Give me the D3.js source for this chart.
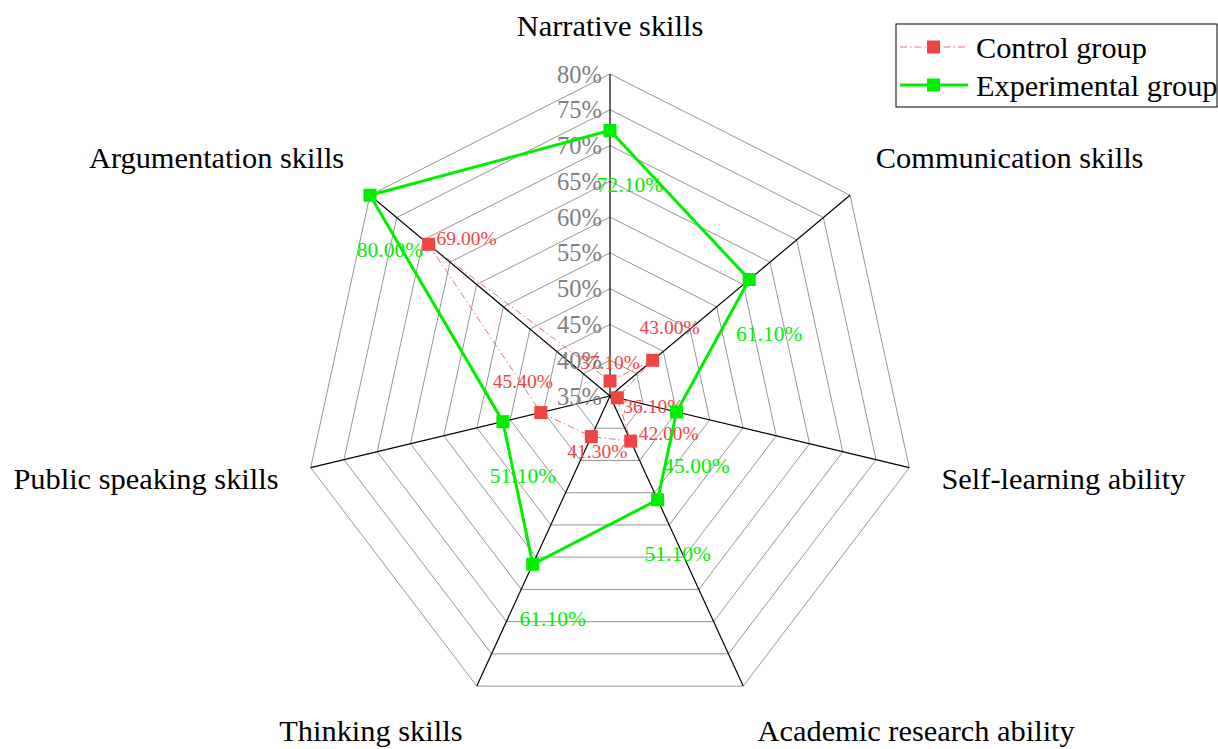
<!DOCTYPE html>
<html>
<head>
<meta charset="utf-8">
<script src="https://cdn.jsdelivr.net/npm/d3@7"></script>
<style>
  body { margin: 0; background: #fff; }
  svg { display: block; font-family: "Liberation Serif", "Times New Roman", serif; }
</style>
</head>
<body>
<svg id="chart" width="1218" height="749"></svg>
<script>
const categories = ["Narrative skills", "Communication skills", "Self-learning ability",
  "Academic research ability", "Thinking skills", "Public speaking skills", "Argumentation skills"];
const controlValues = [37.1, 43.0, 36.1, 42.0, 41.3, 45.4, 69.0];
const experimentalValues = [72.1, 61.1, 45.0, 51.1, 61.1, 51.1, 80.0];
const ticks = [35, 40, 45, 50, 55, 60, 65, 70, 75, 80];
const seriesNames = ["Control group", "Experimental group"];

// where each value label sits relative to its marker
const controlLabelShift = [[0, -19], [17, -33], [36, 8], [38, -8], [6, 15], [-18, -31], [38, -6]];
const expLabelShift = [20, 54];
// small vertical tweak for the category names
const catNudge = [0, -7, 0, 0, 0, 0, -7];

const svg = d3.select("#chart");
const cx = 610, cy = 396, rx = 307, ry = 322;
const red = "#ef4444", green = "#00ee00";

const r = d3.scaleLinear().domain([35, 80]).range([0, 1]);
const angle = d3.scaleLinear().domain([0, categories.length]).range([0, 2 * Math.PI]);

const px = (i, v) => cx + r(v) * rx * Math.sin(angle(i));
const py = (i, v) => cy - r(v) * ry * Math.cos(angle(i));

// grid rings
const grid = svg.append("g");
ticks.slice(1).forEach(t => {
  grid.append("polygon")
    .attr("points", categories.map((c, i) => `${px(i, t)},${py(i, t)}`).join(" "))
    .attr("fill", "none")
    .attr("stroke", "#8a8a8a")
    .attr("stroke-width", 0.9);
});

// spokes
grid.selectAll("line.spoke")
  .data(categories)
  .join("line")
  .attr("x1", cx).attr("y1", cy)
  .attr("x2", (d, i) => px(i, 80))
  .attr("y2", (d, i) => py(i, 80))
  .attr("stroke", "#000")
  .attr("stroke-width", 1.2);

// tick labels along the top spoke
svg.append("g").selectAll("text")
  .data(ticks)
  .join("text")
  .attr("x", cx - 8)
  .attr("y", d => py(0, d))
  .attr("dy", "0.35em")
  .attr("text-anchor", "end")
  .attr("fill", "#808080")
  .attr("font-size", 24.5)
  .text(d => d + "%");

// category labels
svg.append("g").selectAll("text")
  .data(categories)
  .join("text")
  .attr("x", (d, i) => {
    const s = Math.sin(angle(i));
    return Math.abs(s) < 0.01 ? cx : cx + s * (rx + 33);
  })
  .attr("y", (d, i) => cy - Math.cos(angle(i)) * (ry + 49) + catNudge[i])
  .attr("dy", "0.35em")
  .attr("text-anchor", (d, i) => {
    const s = Math.sin(angle(i));
    return Math.abs(s) < 0.01 ? "middle" : (s > 0 ? "start" : "end");
  })
  .attr("font-size", 30.4)
  .attr("fill", "#000")
  .text(d => d);

function drawSeries(values, color, lineColor, width, dash) {
  const g = svg.append("g");
  const line = d3.line().x(d => px(d.i, d.v)).y(d => py(d.i, d.v)).curve(d3.curveLinearClosed);
  const pts = values.map((v, i) => ({ i, v }));
  g.append("path")
    .attr("d", line(pts))
    .attr("fill", "none")
    .attr("stroke", lineColor)
    .attr("stroke-width", width)
    .attr("stroke-dasharray", dash);
  g.selectAll("rect")
    .data(pts)
    .join("rect")
    .attr("x", d => px(d.i, d.v) - 6.5)
    .attr("y", d => py(d.i, d.v) - 6.5)
    .attr("width", 13).attr("height", 13)
    .attr("fill", color);
  return g;
}

const ctrl = drawSeries(controlValues, red, "#f07070", 1, "7,3,1.5,3");
const exp = drawSeries(experimentalValues, green, green, 3, null);

ctrl.selectAll("text")
  .data(controlValues)
  .join("text")
  .attr("x", (d, i) => px(i, d) + controlLabelShift[i][0])
  .attr("y", (d, i) => py(i, d) + controlLabelShift[i][1])
  .attr("dy", "0.35em")
  .attr("text-anchor", "middle")
  .attr("font-size", 19.5)
  .attr("fill", red)
  .text(d => d.toFixed(2) + "%");

exp.selectAll("text")
  .data(experimentalValues)
  .join("text")
  .attr("x", (d, i) => px(i, d) + expLabelShift[0])
  .attr("y", (d, i) => py(i, d) + expLabelShift[1])
  .attr("dy", "0.35em")
  .attr("text-anchor", "middle")
  .attr("font-size", 21.5)
  .attr("fill", green)
  .text(d => d.toFixed(2) + "%");

// legend
const legend = svg.append("g").attr("transform", "translate(896,24)");
legend.append("rect")
  .attr("width", 321).attr("height", 83)
  .attr("fill", "#fff").attr("stroke", "#000").attr("stroke-width", 1);
const legendStyles = [
  { color: red, line: "#f07070", width: 1, dash: "7,3,1.5,3" },
  { color: green, line: green, width: 3, dash: null }
];
seriesNames.forEach((name, k) => {
  const y = 23 + k * 38;
  const st = legendStyles[k];
  legend.append("line")
    .attr("x1", 4).attr("x2", 72).attr("y1", y).attr("y2", y)
    .attr("stroke", st.line).attr("stroke-width", st.width)
    .attr("stroke-dasharray", st.dash);
  legend.append("rect")
    .attr("x", 31).attr("y", y - 6.5).attr("width", 13).attr("height", 13)
    .attr("fill", st.color);
  legend.append("text")
    .attr("x", 80).attr("y", y).attr("dy", "0.35em")
    .attr("font-size", 30.3)
    .text(name);
});
</script>
</body>
</html>
